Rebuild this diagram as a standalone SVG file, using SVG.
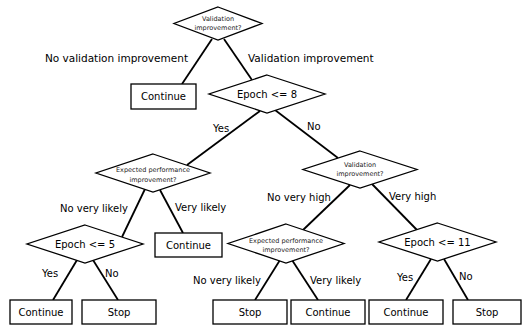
<svg xmlns="http://www.w3.org/2000/svg" width="524" height="335" viewBox="0 0 524 335">
<style>
.shape{fill:#fff;stroke:#000;stroke-width:1.3}
.edge{stroke:#000;stroke-width:1.8;fill:none}
text{font-family:"DejaVu Sans","Liberation Sans",sans-serif;fill:#000}
.t{font-size:10px;text-anchor:middle}
.s{font-size:6.5px;text-anchor:middle;fill:#222}
.l{font-size:10px}
.lb{font-size:10.5px}
</style>
<rect width="524" height="335" fill="#fff"/>
<g id="connectors">
<line class="edge" x1="212" y1="39" x2="182" y2="84"/>
<line class="edge" x1="224" y1="39" x2="252" y2="80"/>
<line class="edge" x1="260" y1="111" x2="187" y2="165"/>
<line class="edge" x1="275" y1="110" x2="338" y2="158"/>
<line class="edge" x1="145" y1="189" x2="122" y2="237"/>
<line class="edge" x1="160" y1="190" x2="183" y2="233"/>
<line class="edge" x1="350" y1="185" x2="303" y2="230"/>
<line class="edge" x1="372" y1="184" x2="417" y2="230"/>
<line class="edge" x1="77" y1="260" x2="53" y2="300"/>
<line class="edge" x1="93" y1="260" x2="118" y2="300"/>
<line class="edge" x1="280" y1="260" x2="255" y2="300"/>
<line class="edge" x1="292" y1="260" x2="318" y2="300"/>
<line class="edge" x1="431" y1="259" x2="406" y2="300"/>
<line class="edge" x1="444" y1="259" x2="468" y2="300"/>
</g>
<g id="labels">
<text class="lb" x="188" y="62" text-anchor="end">No validation improvement</text>
<text class="lb" x="248" y="62">Validation improvement</text>
<text class="l" x="213" y="132">Yes</text>
<text class="l" x="307" y="130">No</text>
<text class="l" x="60" y="212">No very likely</text>
<text class="l" x="175" y="211">Very likely</text>
<text class="l" x="267" y="201">No very high</text>
<text class="l" x="389" y="200">Very high</text>
<text class="l" x="42" y="277">Yes</text>
<text class="l" x="105" y="277">No</text>
<text class="l" x="193" y="284">No very likely</text>
<text class="l" x="310" y="284">Very likely</text>
<text class="l" x="397" y="281">Yes</text>
<text class="l" x="459" y="280">No</text>
</g>
<g id="n_val1">
<polygon class="shape" points="218,7 262,23.5 218,40 174,23.5"/>
<text class="s" x="218" y="21">Validation</text>
<text class="s" x="218" y="29.5">improvement?</text>
</g>
<g id="n_cont1">
<rect class="shape" x="131" y="84" width="65" height="25"/>
<text class="t" x="163.5" y="100">Continue</text>
</g>
<g id="n_ep8">
<polygon class="shape" points="267,75 325,94 267,113 209,94"/>
<text class="t" x="267" y="97.5">Epoch &lt;= 8</text>
</g>
<g id="n_exp1">
<polygon class="shape" points="153,154 210,173 153,192 96,173"/>
<text class="s" x="153" y="172">Expected performance</text>
<text class="s" x="153" y="181.5">improvement?</text>
</g>
<g id="n_val2">
<polygon class="shape" points="360,151 417,169.5 360,188 303,169.5"/>
<text class="s" x="360" y="166.5">Validation</text>
<text class="s" x="360" y="175.5">improvement?</text>
</g>
<g id="n_ep5">
<polygon class="shape" points="85,225 143,244 85,263 27,244"/>
<text class="t" x="85" y="248">Epoch &lt;= 5</text>
</g>
<g id="n_cont2">
<rect class="shape" x="155" y="233" width="67" height="24"/>
<text class="t" x="188.5" y="248.5">Continue</text>
</g>
<g id="n_exp2">
<polygon class="shape" points="286,224 344,243.5 286,263 228,243.5"/>
<text class="s" x="286" y="243">Expected performance</text>
<text class="s" x="286" y="251.5">improvement?</text>
</g>
<g id="n_ep11">
<polygon class="shape" points="437.5,223 496,242 437.5,261 379,242"/>
<text class="t" x="437.5" y="246">Epoch &lt;= 11</text>
</g>
<g id="n_b1"><rect class="shape" x="10" y="300" width="62" height="24"/><text class="t" x="41" y="315.5">Continue</text></g>
<g id="n_b2"><rect class="shape" x="82" y="300" width="74" height="24"/><text class="t" x="119" y="315.5">Stop</text></g>
<g id="n_b3"><rect class="shape" x="213" y="300" width="74" height="24"/><text class="t" x="250" y="315.5">Stop</text></g>
<g id="n_b4"><rect class="shape" x="291" y="300" width="74" height="24"/><text class="t" x="328" y="315.5">Continue</text></g>
<g id="n_b5"><rect class="shape" x="369" y="300" width="74" height="24"/><text class="t" x="406" y="315.5">Continue</text></g>
<g id="n_b6"><rect class="shape" x="453" y="300" width="68" height="24"/><text class="t" x="487" y="315.5">Stop</text></g>
</svg>
